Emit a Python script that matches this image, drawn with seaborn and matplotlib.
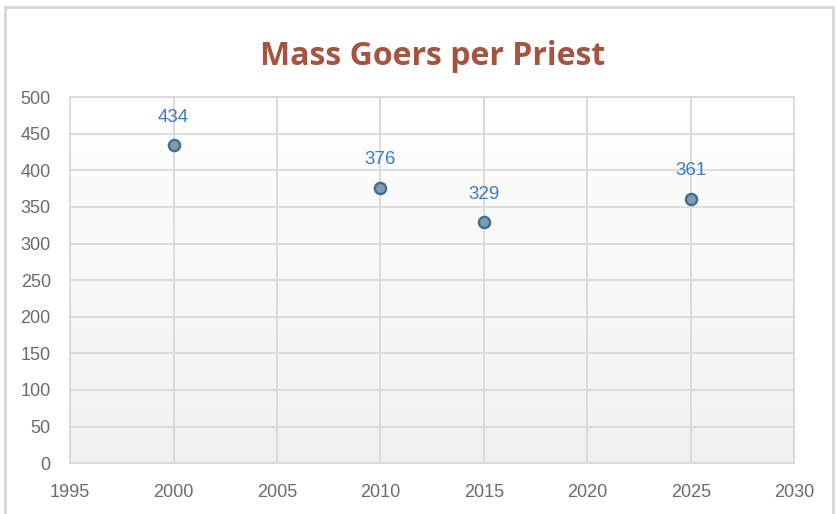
import matplotlib
matplotlib.use("Agg")
import matplotlib.pyplot as plt
import seaborn as sns
import numpy as np
import pandas as pd
from matplotlib.patches import Rectangle

# data
years = [2000, 2010, 2015, 2025]
goers_per_priest = [434, 376, 329, 361]
point_labels = ["434", "376", "329", "361"]

df = pd.DataFrame({"year": years, "value": goers_per_priest})

sns.set_style("white")
plt.rcParams["font.family"] = ["Liberation Sans", "DejaVu Sans"]

fig = plt.figure(figsize=(8.36, 5.14), dpi=100)
ax = fig.add_axes([0.084, 0.099, 0.866, 0.712])

# light vertical gradient behind the plot (white at top, light grey at bottom)
shade = np.linspace(1.0, 0.945, 256)
grad = np.dstack([shade, shade, shade]).reshape(256, 1, 3)
ax.imshow(grad, extent=[1995, 2030, 0, 500], aspect="auto", origin="upper",
          zorder=0)

sns.scatterplot(data=df, x="year", y="value", ax=ax, s=65, color="#809bb0",
                edgecolor="#41708f", linewidth=1.7, zorder=3, legend=False)

for x, y, lab in zip(years, goers_per_priest, point_labels):
    ax.annotate(lab, (x, y), xytext=(0, 14), textcoords="offset points",
                ha="center", va="bottom", fontsize=13.5, color="#3b7bc4")

ax.set_xlim(1995, 2030)
ax.set_ylim(0, 500)
ax.set_xticks(range(1995, 2031, 5))
ax.set_yticks(range(0, 501, 50))
ax.grid(True, color="#d9d9d9", linewidth=1.3)
for sp in ax.spines.values():
    sp.set_color("#d9d9d9")
    sp.set_linewidth(1.3)
ax.tick_params(axis="both", length=0, labelsize=13, labelcolor="#6b6b6b")
ax.tick_params(axis="x", pad=15)
ax.tick_params(axis="y", pad=14)
ax.set_xlabel("")
ax.set_ylabel("")

fig.text(0.518, 0.89, "Mass Goers per Priest", ha="center", va="center",
         fontsize=23, fontweight="bold", color="#a65440",
         family=["Open Sans", "DejaVu Sans"])

fig.patches.append(Rectangle((0.006, -0.05), 0.99, 1.036, transform=fig.transFigure,
                             fill=False, edgecolor="#d6d6d6", linewidth=2))

fig.savefig("out.png", dpi=100)
